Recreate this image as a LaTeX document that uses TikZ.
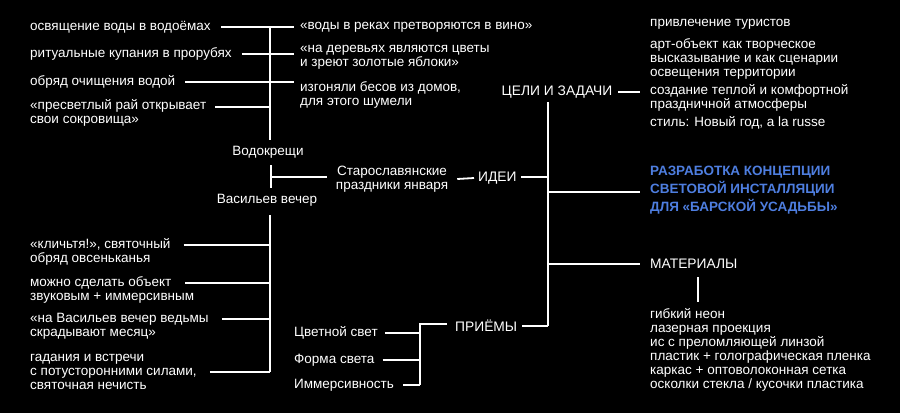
\documentclass[tikz,border=0pt]{standalone}
\usepackage{fontspec}
\setmainfont{Liberation Sans}
\usetikzlibrary{calc, positioning}
\definecolor{ideablue}{RGB}{78,126,224}
\tikzset{
  txt/.style={text=white, inner sep=0pt, align=left, font=\fontsize{13.5}{14}\selectfont},
  head/.style={text=white, inner sep=0pt, font=\fontsize{13.8}{16}\selectfont},
  ln/.style={draw=white, line width=1.8pt},
}
\begin{document}
\begin{tikzpicture}[x=1pt,y=-1pt]
\useasboundingbox (0,0) rectangle (900,413);
\fill[black] (0,0) rectangle (900,413);

% Vodokreshchi
\node[txt] (vod1) at (30,27)[anchor=west]{освящение воды в водоёмах};
\node[txt] (vod2) at (30,54)[anchor=west]{ритуальные купания в прорубях};
\node[txt] (vod3) at (30,82)[anchor=west]{обряд очищения водой};
\node[txt] (vod4) at (30,113)[anchor=west]{«пресветлый рай открывает\\свои сокровища»};
\node[txt] (vod5) at (300,27)[anchor=west]{«воды в реках претворяются в вино»};
\node[txt] (vod6) at (300,57)[anchor=west]{«на деревьях являются цветы\\и зреют золотые яблоки»};
\node[txt] (vod7) at (300,95)[anchor=west]{изгоняли бесов из домов,\\для этого шумели};
\node[txt] (vodkr) at (268,152){Водокрещи};
\coordinate (sp1top) at (270,27); \coordinate (sp1bot) at (270,140);
\draw[ln] (sp1top)--(sp1bot);
\draw[ln] ($(vod1.east)+(10,0)$)--(vod1.east -| sp1top)--($(vod5.west)+(-6,0)$);
\draw[ln] ($(vod2.east)+(10,0)$)--(vod2.east -| sp1top);
\draw[ln] (sp1top |- vod2.east)--($(vod2.east -| vod6.west)+(-6,0)$);
\draw[ln] ($(vod3.east)+(10,0)$)--(vod3.east -| sp1top)--($(vod3.east -| vod7.west)+(-6,0)$);
\draw[ln] ($(vod4.east)+(9,-6)$)--($(vod4.east -| sp1top)+(0,-6)$);

% Vasilev vecher
\node[txt] (vasv) at (267,200){Васильев вечер};
\node[txt] (vas1) at (30,252)[anchor=west]{«кличьтя!», святочный\\обряд овсеньканья};
\node[txt] (vas2) at (30,290)[anchor=west]{можно сделать объект\\звуковым + иммерсивным};
\node[txt] (vas3) at (30,326)[anchor=west]{«на Васильев вечер ведьмы\\скрадывают месяц»};
\node[txt] (vas4) at (30,372)[anchor=west]{гадания и встречи\\с потусторонними силами,\\святочная нечисть};
\coordinate (sp3top) at (270,215); \coordinate (sp3bot) at (270,372);
\draw[ln] (sp3top)--(sp3bot);
\draw[ln] ($(vas1.east)+(13,-7)$)--($(vas1.east -| sp3top)+(0,-7)$);
\draw[ln] (185,283)--(sp3top |- 185,283);
\draw[ln] ($(vas3.east)+(13,-7)$)--($(vas3.east -| sp3top)+(0,-7)$);
\draw[ln] ($(vas4.east)+(13,0)$)--(vas4.east -| sp3top);

% Ideas
\node[txt, align=center] (stslav) at (392,179){Старославянские\\праздники января};
\coordinate (jtop) at (271,165); \coordinate (jbot) at (271,188); \coordinate (jn) at (271,177);
\draw[ln] (jtop)--(jbot);
\draw[ln] (jn)--($(stslav.west |- jn)+(-9,0)$);
\node[head] (idei) at (478,178)[anchor=west]{ИДЕИ};
\draw[ln] ($(stslav.east)+(9,0)$)--($(idei.west)+(-4,0)$);

% main spine
\node[head] (celi) at (557,92){ЦЕЛИ И ЗАДАЧИ};
\coordinate (sptop) at (548,102); \coordinate (spbot) at (548,326);
\draw[ln] (sptop)--(spbot);
\draw[ln] ($(idei.east)+(4,-1)$)--($(idei.east -| sptop)+(0,-1)$);

% Goals
\node[txt] (goal1) at (650,24)[anchor=west]{привлечение туристов};
\node[txt] (goal2) at (650,59)[anchor=west]{арт-объект как творческое\\высказывание и как сценарии\\освещения территории};
\node[txt] (goal3) at (650,98)[anchor=west]{создание теплой и комфортной\\праздничной атмосферы};
\node[txt] (goal4) at (650,123)[anchor=west]{стиль: Новый год, a la russe};
\draw[ln] ($(celi.east)+(6,0)$)--($(celi.east -| goal3.west)+(-10,0)$);

% Concept
\node[txt, text=ideablue, font=\fontsize{13.5}{18}\selectfont\bfseries] (concept) at (650,190)[anchor=west]{РАЗРАБОТКА КОНЦЕПЦИИ\\СВЕТОВОЙ ИНСТАЛЛЯЦИИ\\ДЛЯ «БАРСКОЙ УСАДЬБЫ»};
\draw[ln] ($(sptop |- concept.west)+(0,2)$)--($(concept.west)+(-10,2)$);

% Materials
\node[head] (mater) at (650,264)[anchor=west]{МАТЕРИАЛЫ};
\draw[ln] (sptop |- mater.west)--($(mater.west)+(-10,0)$);
\node[txt] (mlist) at (650,350)[anchor=west]{гибкий неон\\лазерная проекция\\ис с преломляющей линзой\\пластик + голографическая пленка\\каркас + оптоволоконная сетка\\осколки стекла / кусочки пластика};
\draw[ln] ($(mater.south)+(4,8)$)--($(mater.south |- mlist.north)+(4,-6)$);

% Techniques
\node[head] (priem) at (455,326)[anchor=west]{ПРИЁМЫ};
\draw[ln] ($(priem.east)+(5,0)$)--(priem.east -| spbot);
\coordinate (ptop) at (420,324); \coordinate (pbot) at (420,385);
\draw[ln] ($(priem.west)+(-8,-2)$)--(ptop)--(pbot);
\node[txt] (tsvet) at (294,333)[anchor=west]{Цветной свет};
\node[txt] (forma) at (294,360)[anchor=west]{Форма света};
\node[txt] (immers) at (294,385)[anchor=west]{Иммерсивность};
\draw[ln] ($(tsvet.east)+(7,0)$)--(tsvet.east -| ptop);
\draw[ln] ($(forma.east)+(8,0)$)--(forma.east -| ptop);
\draw[ln] ($(immers.east)+(9,0)$)--(immers.east -| ptop);

\end{tikzpicture}
\end{document}
